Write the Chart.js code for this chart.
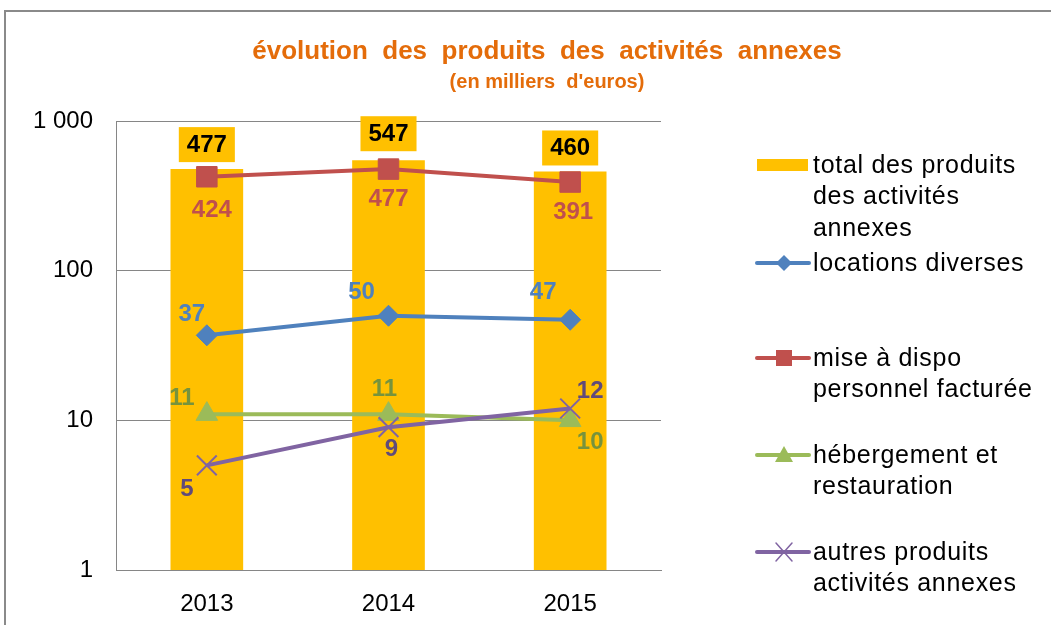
<!DOCTYPE html>
<html>
<head>
<meta charset="utf-8">
<script src="https://cdn.jsdelivr.net/npm/chart.js@4"></script>
<style>
  html, body { margin: 0; padding: 0; background: #fff; overflow: hidden; }
  #wrap { width: 1051px; height: 625px; position: relative; }
</style>
</head>
<body>
<div id="wrap"><canvas id="chart" width="1051" height="625"></canvas></div>
<script>
// Data (thousands of euros)
const years = ['2013', '2014', '2015']
const totalProduits = [477, 547, 460]
const locations = [37, 50, 47]
const miseADispo = [424, 477, 391]
const hebergement = [11, 11, 10]
const autresProduits = [5, 9, 12]
const yTicks = [1, 10, 100, 1000]

const FONT = '"Liberation Sans", Arial, sans-serif'
const ORANGE = '#FFC000'
const BLUE = '#4F81BD'
const RED = '#C0504D'
const GREEN = '#9BBB59'
const PURPLE = '#8064A2'

// label offsets (dx, dy) from each point, in pixels
const OFFSETS = {
    bar: [[0, -25], [0, -27], [0, -24]],
    blue: [[-15, -22], [-27, -24], [-27, -28]],
    red: [[5, 33], [0, 29], [3, 29]],
    green: [[-25, -17], [-4, -26], [20, 21]],
    purple: [[-20, 23], [3, 21], [20, -18]]
}

const labelColors = { blue: BLUE, red: RED, green: '#77933C', purple: '#604A7B' }

function lineSet(label, data, color, style, radius, key, order) {
    return {
        type: 'line', label, data, order,
        borderColor: color, backgroundColor: color,
        borderWidth: 4, pointStyle: style, pointRadius: radius,
        pointBorderWidth: style === 'crossRot' ? 2 : 1,
        pointBorderColor: color, pointBackgroundColor: color,
        labelKey: key
    }
}

const labelsPlugin = {
    id: 'valueLabels',
    afterDatasetsDraw(chart) {
        const { ctx } = chart
        chart.data.datasets.forEach((ds, i) => {
            const meta = chart.getDatasetMeta(i)
            const offs = OFFSETS[ds.labelKey]
            meta.data.forEach((el, j) => {
                const [dx, dy] = offs[j]
                const x = el.x + dx
                const y = el.y + dy
                const txt = String(ds.data[j])
                ctx.save()
                ctx.font = 'bold 24px ' + FONT
                ctx.textAlign = 'center'
                ctx.textBaseline = 'middle'
                if (ds.labelKey === 'bar') {
                    const w = ctx.measureText(txt).width + 16
                    ctx.fillStyle = ORANGE
                    ctx.fillRect(x - w / 2, y - 17, w, 35)
                    ctx.fillStyle = '#000'
                } else {
                    ctx.fillStyle = labelColors[ds.labelKey]
                }
                ctx.fillText(txt, x, y + 1)
                ctx.restore()
            })
        })
    }
}

const framePlugin = {
    id: 'frame',
    beforeDraw(chart) {
        const { ctx } = chart
        ctx.save()
        ctx.fillStyle = '#fff'
        ctx.fillRect(0, 0, chart.width, chart.height)
        ctx.strokeStyle = '#8a8a8a'
        ctx.lineWidth = 2
        ctx.strokeRect(5, 11, 1100, 700)
        ctx.restore()
    },
    afterDraw(chart) {
        const { ctx } = chart
        ctx.save()
        // title
        ctx.fillStyle = '#E46C0A'
        ctx.textAlign = 'center'
        ctx.textBaseline = 'middle'
        ctx.font = 'bold 26px ' + FONT
        ctx.fillText('évolution  des  produits  des  activités  annexes', 547, 52)
        ctx.font = 'bold 20px ' + FONT
        ctx.fillText("(en milliers  d'euros)", 547, 82)

        // legend
        const lx = 757, tx = 813
        ctx.textAlign = 'left'
        ctx.font = '25px ' + FONT
        ctx.letterSpacing = '0.7px'
        ctx.fillStyle = '#000'
        const entries = [
            { kind: 'bar', y: 165, lines: ['total des produits', 'des activités', 'annexes'] },
            { kind: 'blue', y: 263, lines: ['locations diverses'] },
            { kind: 'red', y: 358, lines: ['mise à dispo', 'personnel facturée'] },
            { kind: 'green', y: 455, lines: ['hébergement et', 'restauration'] },
            { kind: 'purple', y: 552, lines: ['autres produits', 'activités annexes'] }
        ]
        entries.forEach(e => {
            if (e.kind === 'bar') {
                ctx.fillStyle = ORANGE
                ctx.fillRect(lx, e.y - 6, 51, 12)
            } else {
                const c = { blue: BLUE, red: RED, green: GREEN, purple: PURPLE }[e.kind]
                ctx.strokeStyle = c
                ctx.fillStyle = c
                ctx.lineWidth = 4
                ctx.lineCap = 'round'
                ctx.beginPath()
                ctx.moveTo(lx, e.y)
                ctx.lineTo(lx + 52, e.y)
                ctx.stroke()
                const cx = lx + 27
                ctx.beginPath()
                if (e.kind === 'blue') {
                    ctx.moveTo(cx, e.y - 8); ctx.lineTo(cx + 8, e.y); ctx.lineTo(cx, e.y + 8); ctx.lineTo(cx - 8, e.y)
                    ctx.closePath(); ctx.fill()
                } else if (e.kind === 'red') {
                    ctx.fillRect(cx - 8, e.y - 8, 16, 16)
                } else if (e.kind === 'green') {
                    ctx.moveTo(cx, e.y - 9); ctx.lineTo(cx + 9, e.y + 7); ctx.lineTo(cx - 9, e.y + 7)
                    ctx.closePath(); ctx.fill()
                } else {
                    ctx.lineWidth = 1.5
                    ctx.moveTo(cx - 8, e.y - 9); ctx.lineTo(cx + 8, e.y + 9)
                    ctx.moveTo(cx + 8, e.y - 9); ctx.lineTo(cx - 8, e.y + 9)
                    ctx.stroke()
                }
            }
            ctx.fillStyle = '#000'
            e.lines.forEach((t, k) => ctx.fillText(t, tx, e.y + 1 + k * 31.5))
        })
        ctx.restore()
    }
}

new Chart(document.getElementById('chart'), {
    data: {
        labels: years,
        datasets: [
            {
                type: 'bar', label: 'total des produits des activités annexes',
                data: totalProduits, backgroundColor: ORANGE, order: 10,
                barPercentage: 0.4, categoryPercentage: 1, labelKey: 'bar'
            },
            lineSet('locations diverses', locations, BLUE, 'rectRot', 10.5, 'blue', 4),
            lineSet('mise à dispo personnel facturée', miseADispo, RED, 'rect', 14.5, 'red', 3),
            lineSet('hébergement et restauration', hebergement, GREEN, 'triangle', 12.5, 'green', 2),
            lineSet('autres produits activités annexes', autresProduits, PURPLE, 'crossRot', 14, 'purple', 1)
        ]
    },
    options: {
        responsive: false,
        animation: false,
        devicePixelRatio: 1,
        layout: { padding: { top: 121, right: 390, bottom: 0, left: 0 } },
        plugins: {
            legend: { display: false },
            title: { display: false },
            tooltip: { enabled: false }
        },
        scales: {
            x: {
                offset: true,
                grid: { display: false, drawTicks: false },
                border: { color: '#868686', width: 1 },
                ticks: { color: '#000', font: { family: FONT, size: 24 }, padding: 20 },
                afterFit(scale) { scale.height = 55 }
            },
            y: {
                type: 'logarithmic',
                min: 1, max: 1000,
                grid: { color: '#868686', lineWidth: 1, drawTicks: false },
                border: { color: '#868686', width: 1 },
                afterBuildTicks(scale) { scale.ticks = yTicks.map(v => ({ value: v })) },
                ticks: {
                    color: '#000', font: { family: FONT, size: 24 }, padding: 23,
                    callback: v => v >= 1000 ? '1 000' : String(v)
                },
                afterFit(scale) { scale.width = 116 }
            }
        }
    },
    plugins: [framePlugin, labelsPlugin]
})
</script>
</body>
</html>
